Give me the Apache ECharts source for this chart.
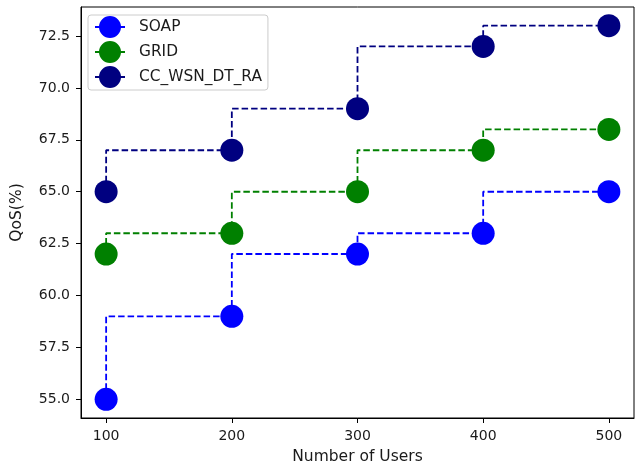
<!DOCTYPE html>
<html>
<head>
<meta charset="utf-8">
<script src="https://cdn.jsdelivr.net/npm/echarts@6/dist/echarts.min.js"></script>
<style>html,body{margin:0;padding:0;background:#fff}#c{width:638px;height:470px}</style>
</head>
<body>
<div id="c"></div>
<script>
const users = [100, 200, 300, 400, 500];
const soap = [55, 59, 62, 63, 65];
const grid = [62, 63, 65, 67, 68];
const ccwsn = [65, 67, 69, 72, 73];
const xTicks = [100, 200, 300, 400, 500];
const yTicks = [55.0, 57.5, 60.0, 62.5, 65.0, 67.5, 70.0, 72.5];
const seriesNames = ['SOAP', 'GRID', 'CC_WSN_DT_RA'];
const seriesColors = ['#0000ff', '#008000', '#000080'];
const seriesData = [soap, grid, ccwsn];

const FONT = 'DejaVu Sans';
const TXT = '#1a1a1a';
const icon = 'path://M0 10H30V12H0Z M4 11A11 11 0 1 1 26 11A11 11 0 1 1 4 11Z';

const chart = echarts.init(document.getElementById('c'), null, {renderer: 'canvas'});
chart.setOption({
  animation: false,
  backgroundColor: '#fff',
  textStyle: {fontFamily: FONT},
  grid: {left: 81, right: 4, top: 7, bottom: 49, show: true, borderColor: '#000', borderWidth: 1, backgroundColor: 'transparent'},
  legend: {
    orient: 'vertical', left: 88, top: 15,
    padding: [1, 6, 2, 7],
    itemWidth: 30, itemHeight: 22, itemGap: 3,
    icon: icon,
    backgroundColor: 'rgba(255,255,255,0.8)',
    borderColor: '#cccccc', borderWidth: 1, borderRadius: 3,
    textStyle: {fontFamily: FONT, fontSize: 15.4, color: TXT, padding: [0, 0, 0, 9]},
    data: seriesNames
  },
  xAxis: {
    type: 'value', min: 80, max: 520,
    name: 'Number of Users', nameLocation: 'middle', nameGap: 31,
    nameTextStyle: {fontFamily: FONT, fontSize: 15.5, color: TXT},
    axisLine: {show: true, onZero: false, lineStyle: {color: '#000', width: 1}},
    axisTick: {show: true, length: 5, lineStyle: {color: '#000'}, customValues: xTicks},
    axisLabel: {color: TXT, fontSize: 14, fontFamily: FONT, margin: 11, customValues: xTicks, formatter: v => String(v)},
    splitLine: {show: false}
  },
  yAxis: {
    type: 'value', min: 54.1, max: 73.9,
    name: 'QoS(%)', nameLocation: 'middle', nameGap: 56, nameRotate: 90,
    nameTextStyle: {fontFamily: FONT, fontSize: 15.5, color: TXT},
    axisLine: {show: true, onZero: false, lineStyle: {color: '#000', width: 1}},
    axisTick: {show: true, length: 5, lineStyle: {color: '#000'}, customValues: yTicks},
    axisLabel: {color: TXT, fontSize: 14, fontFamily: FONT, margin: 11, customValues: yTicks, formatter: v => v.toFixed(1)},
    splitLine: {show: false}
  },
  series: seriesNames.map((name, i) => ({
    name: name,
    type: 'line',
    step: 'start',
    data: users.map((u, j) => [u, seriesData[i][j]]),
    symbol: 'circle',
    symbolSize: 23,
    color: seriesColors[i],
    itemStyle: {color: seriesColors[i]},
    lineStyle: {color: seriesColors[i], width: 1.8, type: [6.5, 3]},
    z: 2 + i
  }))
});
</script>
</body>
</html>
